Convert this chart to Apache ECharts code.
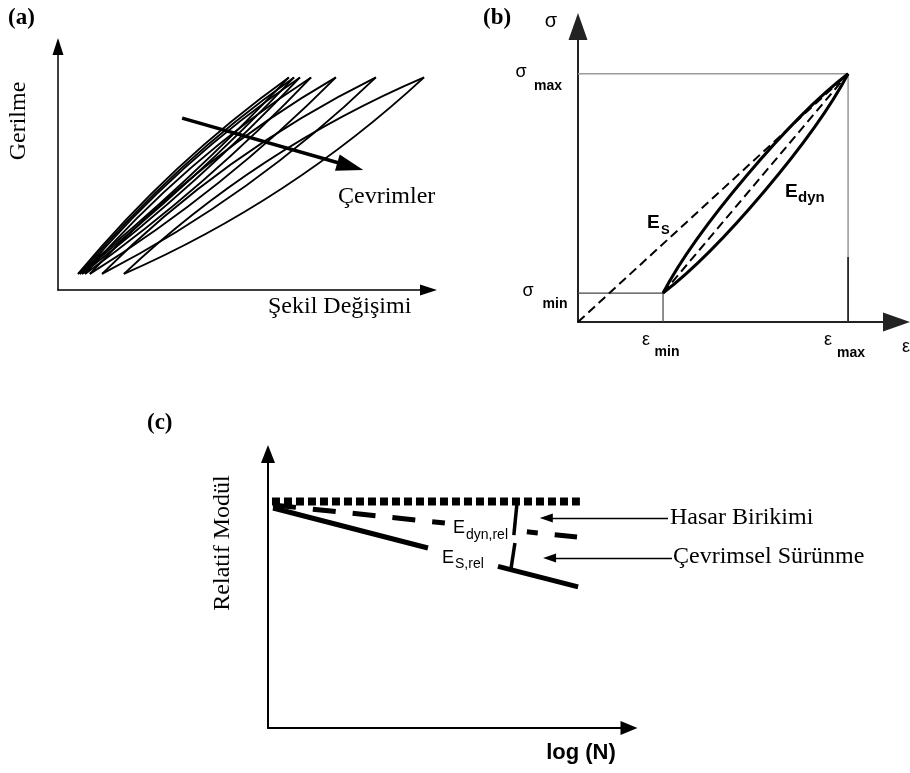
<!DOCTYPE html>
<html lang="tr">
<head>
<meta charset="UTF-8">
<title>Yorulma çevrimleri ve modül</title>
<script src="https://cdn.jsdelivr.net/npm/echarts@6/dist/echarts.min.js"></script>
<style>
    html, body { margin: 0; padding: 0; background: #fff; }
    #main { width: 910px; height: 773px; }
</style>
</head>
<body>
<div id="main"></div>
<script>
    // ---------- (a) histerezis çevrimleri (eksenler 0..100) ----------
    var loopLowX   = [5.4, 5.9, 6.5, 7.3, 8.6, 11.9, 17.8];
    var loopHighX  = [62.3, 63.7, 65.3, 68.3, 75.0, 85.8, 98.8];
    var loopLowY   = 6.6;
    var loopHighY  = 87.3;
    // çevrim açıklığı (gerilme birimi, orta noktada yukarı / aşağı)
    var loopOpenUp   = [5.2, 5.2, 5.6, 5.8, 6.2, 7.0, 7.8];
    var loopOpenDown = [2.6, 2.8, 3.2, 3.8, 4.8, 6.2, 7.4];
    var cycleArrowX = [33.5, 78.9];
    var cycleArrowY = [70.6, 50.8];

    // ---------- (b) tek çevrim ----------
    var strainB = [26.7, 84.8];   // eps_min, eps_max
    var stressB = [9.8, 84.0];    // sigma_min, sigma_max
    var loopOpenB = 6.2;
    var guideDarkY = [0, 22];

    // ---------- (c) relatif modül - log(N) ----------
    var refX = [1.1, 86.4],  refY = [82.7, 82.7];
    var dynAX = [1.4, 49.0], dynAY = [81.4, 74.8];
    var dynBX = [71.7, 85.6], dynBY = [71.6, 69.7];
    var sAX = [1.4, 44.3],   sAY = [80.3, 65.7];
    var sBX = [63.7, 85.9],  sBY = [59.0, 51.5];
    var damageX = [69.0, 68.1], damageY = [82.4, 70.4];
    var creepX = [68.4, 67.3],  creepY = [67.5, 58.0];
    var tickX = [-1.4, 0],      tickY = [82.7, 82.7];
    var noteArrowStartX = [110.8, 111.9];
    var noteArrowEndX = [77.1, 78.0];
    var noteArrowY = [76.6, 62.0];

    var SERIF = '"Liberation Serif", "Times New Roman", serif';
    var SANS = '"Liberation Sans", Arial, sans-serif';

    var chart = echarts.init(document.getElementById('main'));

    function axis(idx, arrow, color, width) {
        return {
            type: 'value', gridIndex: idx, min: 0, max: 100,
            axisLine: { show: true, onZero: false, symbol: ['none', 'triangle'], symbolSize: arrow,
                        lineStyle: { color: color, width: width } },
            axisTick: { show: false }, axisLabel: { show: false }, splitLine: { show: false }
        };
    }

    function seg(g, xs, ys, style, z) {
        return {
            type: 'line', xAxisIndex: g, yAxisIndex: g, silent: true, clip: false,
            animation: false, symbol: 'none', z: z || 2,
            data: xs.map(function (x, i) { return [x, ys[i]]; }),
            lineStyle: style
        };
    }

    function txt(text, x, y, font, extra) {
        var el = {
            type: 'text', x: x, y: y, silent: true,
            style: { text: text, font: font, fill: '#000', align: 'left', verticalAlign: 'middle' }
        };
        if (extra) {
            if (extra.rotation) el.rotation = extra.rotation;
            if (extra.align) el.style.align = extra.align;
        }
        return el;
    }

    // kiriş ve dik birim vektör (piksel uzayında), açıklık dik yönde uygulanır
    function chordFrame(api, x0, y0, x1, y1) {
        var a = api.coord([x0, y0]), b = api.coord([x1, y1]);
        var dx = b[0] - a[0], dy = b[1] - a[1];
        var len = Math.sqrt(dx * dx + dy * dy);
        return { a: a, b: b, dx: dx, dy: dy, nx: dy / len, ny: -dx / len, cos: Math.abs(dx) / len };
    }
    function pt(f, t, off) {
        return [f.a[0] + f.dx * t + f.nx * off, f.a[1] + f.dy * t + f.ny * off];
    }

    // (a) çevrim: iki ikinci derece eğri
    function renderLoopA(params, api) {
        var f = chordFrame(api, api.value(0), api.value(1), api.value(2), api.value(3));
        var up = Math.abs(api.size([0, api.value(4)])[1]) * f.cos;
        var dn = Math.abs(api.size([0, api.value(5)])[1]) * f.cos;
        var cu = pt(f, 0.5, 2 * up), cd = pt(f, 0.5, -2 * dn);
        var st = { fill: 'none', stroke: '#000', lineWidth: 1.9 };
        return {
            type: 'group', children: [
                { type: 'bezierCurve', shape: { x1: f.a[0], y1: f.a[1], x2: f.b[0], y2: f.b[1], cpx1: cu[0], cpy1: cu[1] }, style: st },
                { type: 'bezierCurve', shape: { x1: f.a[0], y1: f.a[1], x2: f.b[0], y2: f.b[1], cpx1: cd[0], cpy1: cd[1] }, style: st }
            ]
        };
    }

    // (b) çevrim: iki kübik eğri
    function renderLoopB(params, api) {
        var f = chordFrame(api, api.value(0), api.value(1), api.value(2), api.value(3));
        var d = Math.abs(api.size([0, api.value(4)])[1]) * f.cos / 0.75;
        var u1 = pt(f, 0.25, d), u2 = pt(f, 0.75, d), l1 = pt(f, 0.25, -d), l2 = pt(f, 0.75, -d);
        var st = { fill: 'none', stroke: '#000', lineWidth: 3 };
        return {
            type: 'group', children: [
                { type: 'bezierCurve', shape: { x1: f.a[0], y1: f.a[1], x2: f.b[0], y2: f.b[1], cpx1: u1[0], cpy1: u1[1], cpx2: u2[0], cpy2: u2[1] }, style: st },
                { type: 'bezierCurve', shape: { x1: f.a[0], y1: f.a[1], x2: f.b[0], y2: f.b[1], cpx1: l1[0], cpy1: l1[1], cpx2: l2[0], cpy2: l2[1] }, style: st }
            ]
        };
    }

    var loopData = loopLowX.map(function (x, i) {
        return [x, loopLowY, loopHighX[i], loopHighY, loopOpenUp[i], loopOpenDown[i]];
    });

    var solid = function (w, c) { return { color: c || '#000', width: w, type: 'solid' }; };

    var option = {
        backgroundColor: '#fff',
        animation: false,
        grid: [
            { left: 58, top: 46.5, width: 370.5, height: 243.5 },
            { left: 578, top: 26.5, width: 318.5, height: 295.5 },
            { left: 268, top: 454, width: 361, height: 274 }
        ],
        xAxis: [
            axis(0, [11, 17], '#000', 1.5),
            axis(1, [19, 27], '#222', 2),
            axis(2, [14, 17], '#000', 2)
        ],
        yAxis: [
            axis(0, [11, 17], '#000', 1.5),
            axis(1, [19, 27], '#222', 2),
            axis(2, [14, 18], '#000', 2)
        ],
        series: [
            // (a)
            {
                type: 'custom', xAxisIndex: 0, yAxisIndex: 0, silent: true,
                renderItem: renderLoopA, data: loopData,
                encode: { x: [0, 2], y: [1, 3] }
            },
            {
                type: 'lines', coordinateSystem: 'cartesian2d', xAxisIndex: 0, yAxisIndex: 0,
                silent: true, clip: false, z: 5,
                symbol: ['none', 'triangle'], symbolSize: [[1, 1], [17, 27]],
                lineStyle: { color: '#000', width: 3.5, opacity: 1, curveness: 0 },
                data: [{ coords: [[cycleArrowX[0], cycleArrowY[0]], [cycleArrowX[1], cycleArrowY[1]]] }]
            },
            // (b)
            seg(1, [0, strainB[1]], [stressB[1], stressB[1]], solid(1.5, '#9a9a9a')),
            seg(1, [strainB[1], strainB[1]], [0, stressB[1]], solid(1.5, '#9a9a9a')),
            seg(1, [strainB[1], strainB[1]], guideDarkY, solid(1.5, '#111')),
            seg(1, [0, strainB[0]], [stressB[0], stressB[0]], solid(1.2, '#444')),
            seg(1, [strainB[0], strainB[0]], [0, stressB[0]], solid(1.2, '#444')),
            seg(1, [0, strainB[1]], [0, stressB[1]], { color: '#000', width: 2, type: [9, 5] }),
            seg(1, strainB, stressB, { color: '#000', width: 2, type: [9, 5] }),
            {
                type: 'custom', xAxisIndex: 1, yAxisIndex: 1, silent: true, z: 4,
                renderItem: renderLoopB,
                data: [[strainB[0], stressB[0], strainB[1], stressB[1], loopOpenB]],
                encode: { x: [0, 2], y: [1, 3] }
            },
            // (c)
            seg(2, refX, refY, { color: '#000', width: 8, type: [8, 4], cap: 'butt' }),
            seg(2, dynAX, dynAY, { color: '#000', width: 5, type: [23, 17], cap: 'butt' }),
            seg(2, dynBX, dynBY, { color: '#000', width: 5, type: [23, 17], dashOffset: 12, cap: 'butt' }),
            seg(2, sAX, sAY, solid(5)),
            seg(2, sBX, sBY, solid(5)),
            seg(2, damageX, damageY, solid(3.5), 6),
            seg(2, creepX, creepY, solid(3.5), 6),
            seg(2, tickX, tickY, solid(1.2)),
            {
                type: 'lines', coordinateSystem: 'cartesian2d', xAxisIndex: 2, yAxisIndex: 2,
                silent: true, clip: false,
                symbol: ['none', 'triangle'], symbolSize: [[1, 1], [9, 13]],
                lineStyle: { color: '#000', width: 1.3, opacity: 1, curveness: 0 },
                data: noteArrowY.map(function (y, i) {
                    return { coords: [[noteArrowStartX[i], y], [noteArrowEndX[i], y]] };
                })
            }
        ],
        graphic: [
            txt('(a)', 8, 18, 'bold 23px ' + SERIF),
            txt('(b)', 483, 18, 'bold 23px ' + SERIF),
            txt('(c)', 147, 423, 'bold 23px ' + SERIF),
            txt('Gerilme', 19, 121, '24px ' + SERIF, { rotation: Math.PI / 2, align: 'center' }),
            txt('Çevrimler', 338, 197, '24px ' + SERIF),
            txt('Şekil Değişimi', 268, 307, '24px ' + SERIF),
            txt('Relatif Modül', 223, 543, '24px ' + SERIF, { rotation: Math.PI / 2, align: 'center' }),
            txt('Hasar Birikimi', 670, 518, '24px ' + SERIF),
            txt('Çevrimsel Sürünme', 673, 557, '24px ' + SERIF),

            txt('σ', 551, 21, '20px ' + SANS, { align: 'center' }),
            txt('σ', 521, 72, '18px ' + SANS, { align: 'center' }),
            txt('max', 548, 86, 'bold 14px ' + SANS, { align: 'center' }),
            txt('σ', 528, 291, '18px ' + SANS, { align: 'center' }),
            txt('min', 555, 304, 'bold 14px ' + SANS, { align: 'center' }),
            txt('ε', 646, 340, '18px ' + SANS, { align: 'center' }),
            txt('min', 667, 352, 'bold 14px ' + SANS, { align: 'center' }),
            txt('ε', 828, 340, '18px ' + SANS, { align: 'center' }),
            txt('max', 851, 353, 'bold 14px ' + SANS, { align: 'center' }),
            txt('ε', 906, 347, '18px ' + SANS, { align: 'center' }),
            txt('E', 647, 223, 'bold 19px ' + SANS),
            txt('S', 661, 230, 'bold 13px ' + SANS),
            txt('E', 785, 192, 'bold 19px ' + SANS),
            txt('dyn', 798, 198, 'bold 15px ' + SANS),

            txt('E', 453, 528, '18px ' + SANS),
            txt('dyn,rel', 466, 535, '14px ' + SANS),
            txt('E', 442, 558, '18px ' + SANS),
            txt('S,rel', 455, 564, '14px ' + SANS),
            txt('log (N)', 581, 753, 'bold 22px ' + SANS, { align: 'center' })
        ]
    };

    chart.setOption(option);
</script>
</body>
</html>
